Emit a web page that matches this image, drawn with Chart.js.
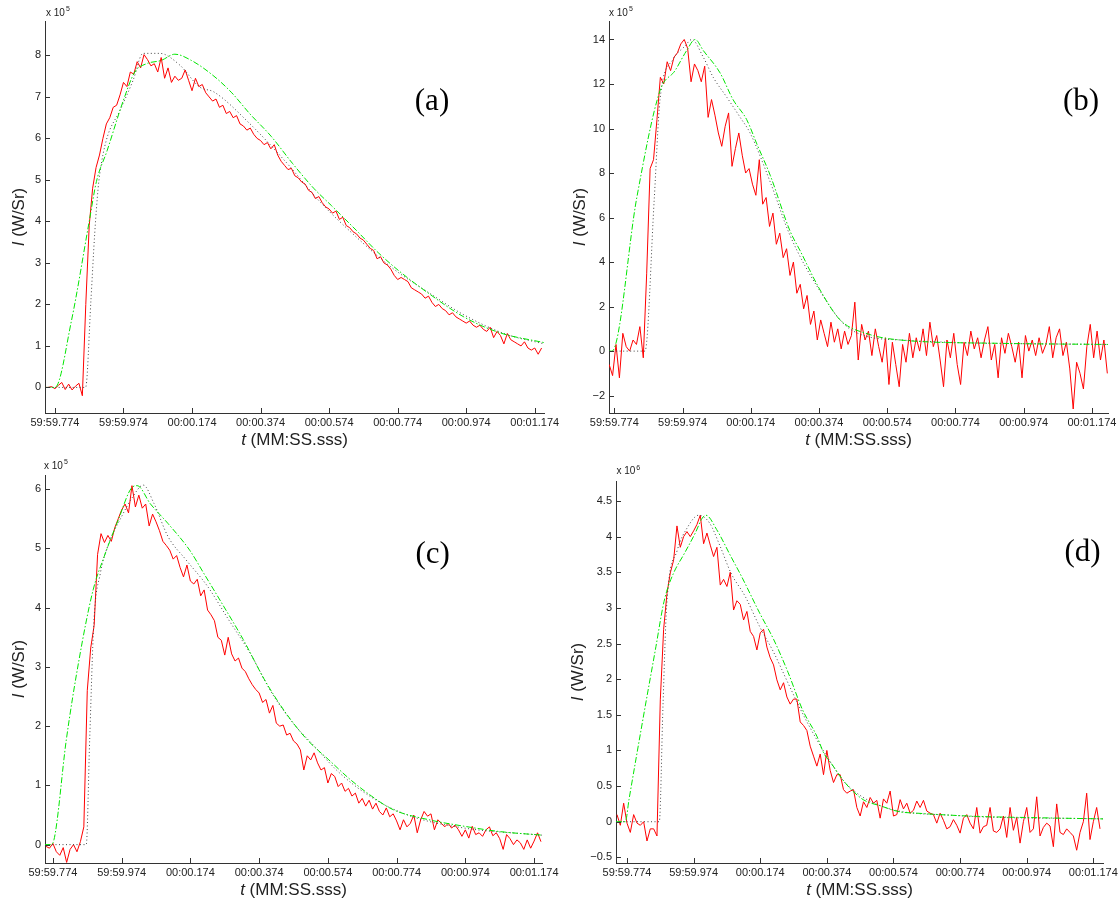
<!DOCTYPE html>
<html>
<head>
<meta charset="utf-8">
<script src="https://cdn.jsdelivr.net/npm/chart.js@4.4.0/dist/chart.umd.min.js"></script>
<style>
  body { margin: 0; background: #fff; width: 1119px; height: 902px; position: relative; overflow: hidden; }
  canvas { position: absolute; }
</style>
</head>
<body>
<canvas id="pa" width="560" height="451" style="left:0px;top:0px"></canvas>
<canvas id="pb" width="559" height="451" style="left:560px;top:0px"></canvas>
<canvas id="pc" width="560" height="451" style="left:0px;top:451px"></canvas>
<canvas id="pd" width="559" height="451" style="left:560px;top:451px"></canvas>
<script>
// time is in seconds after 59:59.774
const xTicks = [0, 0.2, 0.4, 0.6, 0.8, 1.0, 1.2, 1.4];
const xLabels = ['59:59.774', '59:59.974', '00:00.174', '00:00.374', '00:00.574', '00:00.774', '00:00.974', '00:01.174'];

const yTicksA = [0, 1, 2, 3, 4, 5, 6, 7, 8];
const yTicksB = [-2, 0, 2, 4, 6, 8, 10, 12, 14];
const yTicksC = [0, 1, 2, 3, 4, 5, 6];
const yTicksD = [-0.5, 0, 0.5, 1, 1.5, 2, 2.5, 3, 3.5, 4, 4.5];

// measured signal, one sample every 10 ms
const DT = 0.01;

// ---- (a) x 10^5 ----
const startA = -0.03;
const redA = [
  0.0, 0.0, 0.02, -0.03, 0.05, 0.12, -0.05, 0.08, -0.06, 0.03,
  0.1, -0.2, 2.0, 3.9, 4.8, 5.3, 5.6, 6.0, 6.35, 6.5,
  6.75, 6.8, 7.05, 7.35, 7.25, 7.6, 7.55, 7.85, 7.7, 8.02,
  7.9, 7.75, 7.8, 7.6, 7.95, 7.45, 7.7, 7.35, 7.5, 7.4,
  7.45, 7.65, 7.4, 7.15, 7.45, 7.25, 7.3, 7.1, 7.0, 6.9,
  6.95, 6.75, 6.8, 6.6, 6.65, 6.5, 6.55, 6.35, 6.3, 6.2,
  6.25, 6.1, 6.0, 5.95, 5.85, 5.9, 5.75, 5.85, 5.6, 5.45,
  5.35, 5.25, 5.28, 5.1, 5.05, 4.95, 4.9, 4.75, 4.7, 4.55,
  4.6, 4.45, 4.35, 4.3, 4.2, 4.25, 4.05, 4.1, 3.9, 3.85,
  3.75, 3.7, 3.6, 3.55, 3.45, 3.35, 3.3, 3.1, 3.15, 3.0,
  2.95, 2.85, 2.7, 2.6, 2.65, 2.6, 2.55, 2.4, 2.35, 2.3,
  2.25, 2.15, 2.2, 2.05, 1.95, 2.0, 1.9, 1.85, 1.75, 1.8,
  1.7, 1.65, 1.6, 1.55, 1.6, 1.5, 1.45, 1.5, 1.4, 1.35,
  1.45, 1.2, 1.35, 1.25, 1.05, 1.3, 1.15, 1.1, 1.05, 1.0,
  1.1, 0.95, 0.9, 0.95, 0.8, 0.95
];
const greenA = [[-0.03, 0], [0, 0], [0.048, 1.6], [0.1, 4.0], [0.121, 4.96], [0.152, 5.7], [0.199, 6.9],
  [0.233, 7.6], [0.267, 7.8], [0.31, 7.88], [0.35, 8.03], [0.398, 7.88], [0.464, 7.5], [0.516, 7.1],
  [0.568, 6.6], [0.631, 6.05], [0.693, 5.4], [0.755, 4.8], [0.807, 4.38], [0.88, 3.78], [0.943, 3.25],
  [1.005, 2.8], [1.088, 2.28], [1.193, 1.7], [1.297, 1.32], [1.427, 1.08]];
const blackA = [[-0.03, 0], [0.0895, 0], [0.105, 2.1], [0.116, 3.7], [0.126, 4.8], [0.131, 5.16], [0.15, 5.96],
  [0.19, 6.68], [0.228, 7.4], [0.257, 8.05], [0.306, 8.05], [0.364, 7.77], [0.422, 7.24], [0.464, 7.12],
  [0.568, 6.36], [0.672, 5.45], [0.776, 4.45], [0.88, 3.62], [0.984, 2.88], [1.088, 2.3], [1.193, 1.75],
  [1.317, 1.28], [1.427, 1.05]];

// ---- (b) x 10^5 ----
const startB = -0.015;
const redB = [
  -0.6, -1.1, 0.3, -1.2, 0.8, 0.2, 0.0, 0.5, 0.3, 1.1,
  -0.3, 3.5, 8.2, 8.6, 10.4, 12.3, 12.0, 13.0, 12.6, 13.2,
  13.4, 13.8, 14.0, 13.6, 12.1, 12.9, 12.6, 12.1, 12.8, 10.5,
  11.3, 10.6, 9.8, 9.2, 10.1, 10.7, 8.3, 9.1, 9.8, 8.8,
  8.0, 8.2, 7.5, 7.0, 8.6, 6.6, 6.9, 5.6, 6.2, 4.8,
  5.3, 4.2, 4.6, 3.4, 4.0, 2.6, 3.0, 1.9, 2.5, 1.2,
  1.8, 0.5, 1.4, 0.8, 0.2, 1.3, 0.4, 1.0, 0.1, 0.9,
  0.3, 0.7, 2.2, -0.4, 1.2, 0.5, 0.9, -0.2, 1.0, 0.2,
  -0.5, 0.6, -1.5, 0.4, -0.6, -1.6, 0.3, -0.5, 0.8, -0.3,
  0.6, 0.0, 1.0, -0.2, 1.3, 0.2, 0.7, -0.4, -1.6, 0.5,
  -0.3, 0.8, -0.6, -1.5, 0.4, -0.2, 0.9, 0.1, 0.6, -0.3,
  0.5, 1.1, -0.4, 0.3, -1.2, 0.6, -0.1, 0.8, 0.2, -0.5,
  0.4, -1.2, 0.7, 0.0, 0.5, -0.2, 0.6, -0.1, 0.3, 1.1,
  -0.3, 0.6, 1.0, -0.2, 0.4, -0.8, -2.6, -0.5, -1.0, -1.7,
  0.2, 1.2, -0.3, 0.9, -0.4, 0.5, -1.0
];
const greenB = [[-0.015, 0], [-0.007, 0], [0.066, 6.9], [0.134, 11.7], [0.178, 12.6], [0.212, 13.5],
  [0.237, 14.0], [0.261, 13.5], [0.31, 12.5], [0.348, 11.3], [0.388, 10.4], [0.418, 9.3], [0.457, 7.9],
  [0.515, 5.4], [0.545, 4.5], [0.603, 2.75], [0.662, 1.4], [0.75, 0.74], [0.838, 0.5], [1.131, 0.35],
  [1.447, 0.3]];
const blackB = [[-0.015, 0], [0.09, 0], [0.117, 6.8], [0.134, 11.3], [0.172, 13.1], [0.207, 13.7],
  [0.227, 14.0], [0.261, 13.2], [0.29, 12.3], [0.33, 11.4], [0.369, 10.5], [0.398, 9.8], [0.457, 7.6],
  [0.515, 5.2], [0.603, 2.7], [0.69, 1.0], [0.838, 0.5], [1.447, 0.3]];

// ---- (c) x 10^5 ----
const startC = -0.02;
const redC = [
  -0.03, -0.06, 0.02, -0.12, -0.18, -0.05, -0.3, -0.08, 0.0, -0.12,
  0.05, 0.3, 2.6, 3.32, 3.7, 4.9, 5.25, 5.1, 5.22, 5.12,
  5.35, 5.5, 5.65, 5.75, 5.6, 6.06, 5.7, 5.9, 5.68, 5.75,
  5.38, 5.58, 5.45, 5.3, 5.12, 5.05, 4.97, 4.82, 4.88, 4.68,
  4.52, 4.72, 4.45, 4.4, 4.48, 4.2, 4.3, 3.96, 3.88, 3.78,
  3.5, 3.45, 3.2, 3.5, 3.22, 3.1, 3.15, 2.98, 2.92, 2.8,
  2.7, 2.62, 2.56, 2.4, 2.45, 2.22, 2.35, 2.05, 2.0, 2.02,
  1.85, 1.88, 1.75, 1.7, 1.6, 1.26, 1.5, 1.43, 1.55, 1.38,
  1.26, 1.3, 1.04, 1.2, 1.15, 0.98, 1.04, 0.9, 0.95, 0.82,
  0.87, 0.7, 0.78, 0.65, 0.75, 0.6, 0.7, 0.56, 0.5, 0.62,
  0.47, 0.52, 0.4, 0.25, 0.42, 0.3, 0.36, 0.5, 0.2, 0.42,
  0.56, 0.48, 0.52, 0.25, 0.42, 0.36, 0.3, 0.36, 0.28, 0.33,
  0.25, 0.14, 0.25, 0.11, 0.31, 0.17, 0.2, 0.14, 0.25, 0.3,
  0.15, 0.2, 0.1, -0.08, 0.17, 0.1, 0.0, 0.08, 0.03, -0.08,
  0.08, -0.06, 0.06, 0.2, 0.05
];
const greenC = [[-0.023, 0], [-0.007, 0], [0.003, 0.08], [0.039, 1.77], [0.076, 3.12], [0.117, 4.3],
  [0.149, 4.86], [0.19, 5.48], [0.232, 6.04], [0.245, 6.06], [0.284, 5.75], [0.335, 5.42], [0.398, 4.97],
  [0.439, 4.58], [0.491, 4.08], [0.554, 3.46], [0.616, 2.78], [0.678, 2.22], [0.74, 1.77], [0.803, 1.43],
  [0.865, 1.1], [0.927, 0.82], [0.99, 0.59], [1.094, 0.42], [1.197, 0.31], [1.301, 0.22], [1.423, 0.16]];
const blackC = [[-0.023, 0], [0.097, 0], [0.107, 1.77], [0.119, 3.74], [0.138, 4.58], [0.159, 5.03],
  [0.2, 5.54], [0.232, 5.87], [0.263, 6.07], [0.294, 5.76], [0.335, 5.2], [0.387, 4.81], [0.45, 4.36],
  [0.512, 3.79], [0.574, 3.23], [0.637, 2.56], [0.699, 2.05], [0.761, 1.66], [0.834, 1.21], [0.938, 0.76],
  [1.042, 0.48], [1.197, 0.28], [1.423, 0.16]];

// ---- (d) x 10^6 ----
const startD = -0.03;
const redD = [
  0.1, -0.05, 0.26, -0.02, -0.15, 0.1, -0.02, -0.05, 0.0, -0.27,
  -0.1, -0.1, -0.2, 1.71, 2.7, 3.2, 3.49, 3.67, 4.15, 3.85,
  4.0, 4.07, 4.0, 4.08, 4.17, 4.3, 3.9, 4.05, 3.88, 3.72,
  3.85, 3.32, 3.4, 3.3, 3.5, 2.97, 3.1, 3.05, 2.83, 2.95,
  2.67, 2.6, 2.41, 2.65, 2.7, 2.45, 2.3, 2.2, 1.99, 1.85,
  1.95, 1.75, 1.65, 1.72, 1.72, 1.4, 1.35, 1.28, 1.06, 0.92,
  0.78, 0.95, 0.66, 1.0, 0.72, 0.55, 0.66, 0.66, 0.45, 0.4,
  0.43, 0.45, 0.2, 0.08, 0.28, 0.2, 0.34, 0.26, 0.3, 0.05,
  0.32, 0.26, 0.43, 0.08, 0.1, 0.31, 0.18, 0.26, 0.12, 0.16,
  0.29, 0.2, 0.3, 0.15, 0.12, 0.1, -0.02, 0.12, 0.02, -0.1,
  -0.07, 0.03, -0.05, -0.16, 0.05, 0.1, -0.02, -0.1, 0.2, -0.16,
  -0.07, -0.05, 0.2, -0.13, -0.15, -0.1, 0.08, -0.22, 0.2, -0.12,
  0.06, -0.3, 0.0, 0.2, -0.15, -0.1, 0.35, -0.2, -0.08, -0.02,
  -0.06, -0.35, 0.25, -0.15, -0.18, -0.1, -0.15, -0.2, -0.4, -0.15,
  0.0, 0.4, -0.25, 0.0, 0.2, -0.1
];
const greenD = [[-0.033, 0], [-0.005, 0], [0.006, 0.31], [0.054, 1.6], [0.087, 2.46], [0.108, 3.02],
  [0.119, 3.23], [0.14, 3.49], [0.173, 3.77], [0.205, 4.05], [0.226, 4.26], [0.237, 4.3], [0.269, 4.1],
  [0.312, 3.72], [0.344, 3.44], [0.398, 2.93], [0.441, 2.55], [0.484, 2.09], [0.527, 1.57], [0.57, 1.2],
  [0.591, 0.96], [0.613, 0.82], [0.656, 0.54], [0.709, 0.31], [0.763, 0.22], [0.817, 0.14], [0.871, 0.12],
  [0.978, 0.09], [1.085, 0.07], [1.193, 0.06], [1.3, 0.05], [1.429, 0.04]];
const blackD = [[-0.033, 0], [0.097, 0], [0.108, 1.62], [0.119, 3.02], [0.151, 3.81], [0.183, 4.14],
  [0.215, 4.3], [0.248, 4.19], [0.28, 3.86], [0.312, 3.49], [0.355, 3.16], [0.398, 2.74], [0.441, 2.37],
  [0.484, 1.94], [0.527, 1.52], [0.57, 1.15], [0.613, 0.82], [0.656, 0.54], [0.763, 0.22], [0.978, 0.09],
  [1.429, 0.04]];

const FONT = '"Liberation Sans", Arial, Helvetica, sans-serif';
const SERIF = '"Liberation Serif", "Times New Roman", serif';
const YW = 40, XH = 30;   // fixed axis box sizes

function sampled(start, vals) {
  return vals.map((v, i) => ({ x: +(start + i * DT).toFixed(3), y: v }));
}
function pairs(arr) {
  return arr.map(p => ({ x: p[0], y: p[1] }));
}
function fmtY(v) {
  return (v < 0 ? '\u2212' : '') + Math.abs(v);
}

// draw a string made of differently styled pieces, centred on cx
function mixed(ctx, parts, cx, cy) {
  let w = 0;
  parts.forEach(p => { ctx.font = p[1]; w += ctx.measureText(p[0]).width; });
  let x = cx - w / 2;
  parts.forEach(p => { ctx.font = p[1]; ctx.fillText(p[0], x, cy); x += ctx.measureText(p[0]).width; });
}

// inward ticks, exponent label, axis titles and panel tag
const panelDecor = {
  id: 'panelDecor',
  afterDraw(chart, args, o) {
    const { ctx, chartArea: ca, scales: { x, y } } = chart;
    ctx.save();
    ctx.strokeStyle = '#333';
    ctx.lineWidth = 1;
    ctx.beginPath();
    x.ticks.forEach(t => {
      const p = Math.round(x.getPixelForValue(t.value)) + 0.5;
      ctx.moveTo(p, ca.bottom); ctx.lineTo(p, ca.bottom - 5);
    });
    y.ticks.forEach(t => {
      const p = Math.round(y.getPixelForValue(t.value)) + 0.5;
      ctx.moveTo(ca.left, p); ctx.lineTo(ca.left + 5, p);
    });
    ctx.stroke();

    ctx.fillStyle = '#222';
    ctx.textBaseline = 'middle';
    ctx.textAlign = 'left';
    ctx.font = '10px ' + FONT;
    ctx.fillText('x 10', o.exp[0], o.exp[1]);
    const ew = ctx.measureText('x 10').width;
    ctx.font = '7px ' + FONT;
    ctx.fillText(o.power, o.exp[0] + ew + 1, o.exp[1] - 4);

    mixed(ctx, [['t', 'italic 17px ' + FONT], [' (MM:SS.sss)', '17px ' + FONT]], (ca.left + ca.right) / 2, o.xTitleY);
    ctx.save();
    ctx.translate(o.yTitleX, (ca.top + ca.bottom) / 2);
    ctx.rotate(-Math.PI / 2);
    mixed(ctx, [['I', 'italic 17px ' + FONT], [' (W/Sr)', '17px ' + FONT]], 0, 0);
    ctx.restore();

    ctx.fillStyle = '#000';
    ctx.textBaseline = 'alphabetic';
    ctx.textAlign = 'center';
    ctx.font = '31px ' + SERIF;
    ctx.fillText(o.tag, o.tagAt[0], o.tagAt[1]);
    ctx.restore();
  }
};

const panels = [
  { id: 'pa', left: 0, top: 0, w: 560, h: 451, area: [45, 21, 544, 413], xr: [-0.029, 1.427], yr: [-0.616, 8.83],
    yTicks: yTicksA, red: sampled(startA, redA), green: pairs(greenA), black: pairs(blackA),
    tag: '(a)', tagAt: [432, 109.5], power: '5', exp: [46, 13], yTitleX: 19.6, xTitleY: 440 },
  { id: 'pb', left: 560, top: 0, w: 559, h: 451, area: [609, 21, 1108, 413], xr: [-0.0155, 1.447], yr: [-2.78, 14.83],
    yTicks: yTicksB, red: sampled(startB, redB), green: pairs(greenB), black: pairs(blackB),
    tag: '(b)', tagAt: [1081, 109.5], power: '5', exp: [609, 13.5], yTitleX: 580, xTitleY: 440 },
  { id: 'pc', left: 0, top: 451, w: 560, h: 451, area: [45, 475, 542, 863], xr: [-0.023, 1.423], yr: [-0.31, 6.24],
    yTicks: yTicksC, red: sampled(startC, redC), green: pairs(greenC), black: pairs(blackC),
    tag: '(c)', tagAt: [432.6, 562.5], power: '5', exp: [44, 466], yTitleX: 19.6, xTitleY: 890 },
  { id: 'pd', left: 560, top: 451, w: 559, h: 451, area: [616, 481, 1103, 863], xr: [-0.033, 1.429], yr: [-0.579, 4.78],
    yTicks: yTicksD, red: sampled(startD, redD), green: pairs(greenD), black: pairs(blackD),
    tag: '(d)', tagAt: [1082.5, 561], power: '6', exp: [616.4, 471.7], yTitleX: 578, xTitleY: 890 }
];

panels.forEach(p => {
  const [L, T, R, B] = p.area;
  const yTicks = p.yTicks;
  new Chart(document.getElementById(p.id), {
    type: 'line',
    data: {
      datasets: [
        { data: p.green, borderColor: '#00e600', borderWidth: 1, borderDash: [6, 2, 1.5, 2], cubicInterpolationMode: 'monotone' },
        { data: p.black, borderColor: '#444', borderWidth: 1, borderDash: [1, 2.5], cubicInterpolationMode: 'monotone' },
        { data: p.red, borderColor: '#ff0000', borderWidth: 1 }
      ]
    },
    options: {
      responsive: false,
      animation: false,
      devicePixelRatio: 1,
      layout: { padding: { left: L - p.left - YW, top: T - p.top, right: p.left + p.w - R, bottom: p.top + p.h - B - XH } },
      elements: { point: { radius: 0 } },
      plugins: {
        legend: { display: false },
        tooltip: { enabled: false },
        panelDecor: {
          tag: p.tag, power: p.power,
          tagAt: [p.tagAt[0] - p.left, p.tagAt[1] - p.top],
          exp: [p.exp[0] - p.left, p.exp[1] - p.top],
          yTitleX: p.yTitleX - p.left, xTitleY: p.xTitleY - p.top
        }
      },
      scales: {
        x: {
          type: 'linear', min: p.xr[0], max: p.xr[1],
          grid: { display: false, drawTicks: false, tickLength: 0 },
          border: { display: true, color: '#333', width: 1 },
          afterBuildTicks: s => { s.ticks = xTicks.map(v => ({ value: v })); },
          afterFit: s => { s.height = XH; s.paddingLeft = 0; s.paddingRight = 0; },
          ticks: { autoSkip: false, maxRotation: 0, padding: 3, color: '#222', font: { family: FONT, size: 11 },
            callback: v => xLabels[xTicks.indexOf(v)] }
        },
        y: {
          type: 'linear', min: p.yr[0], max: p.yr[1],
          grid: { display: false, drawTicks: false, tickLength: 0 },
          border: { display: true, color: '#333', width: 1 },
          afterBuildTicks: s => { s.ticks = yTicks.map(v => ({ value: v })); },
          afterFit: s => { s.width = YW; s.paddingTop = 0; s.paddingBottom = 0; },
          ticks: { padding: 4, color: '#222', font: { family: FONT, size: 11 }, callback: v => fmtY(v) }
        }
      }
    },
    plugins: [panelDecor]
  });
});
</script>
</body>
</html>
